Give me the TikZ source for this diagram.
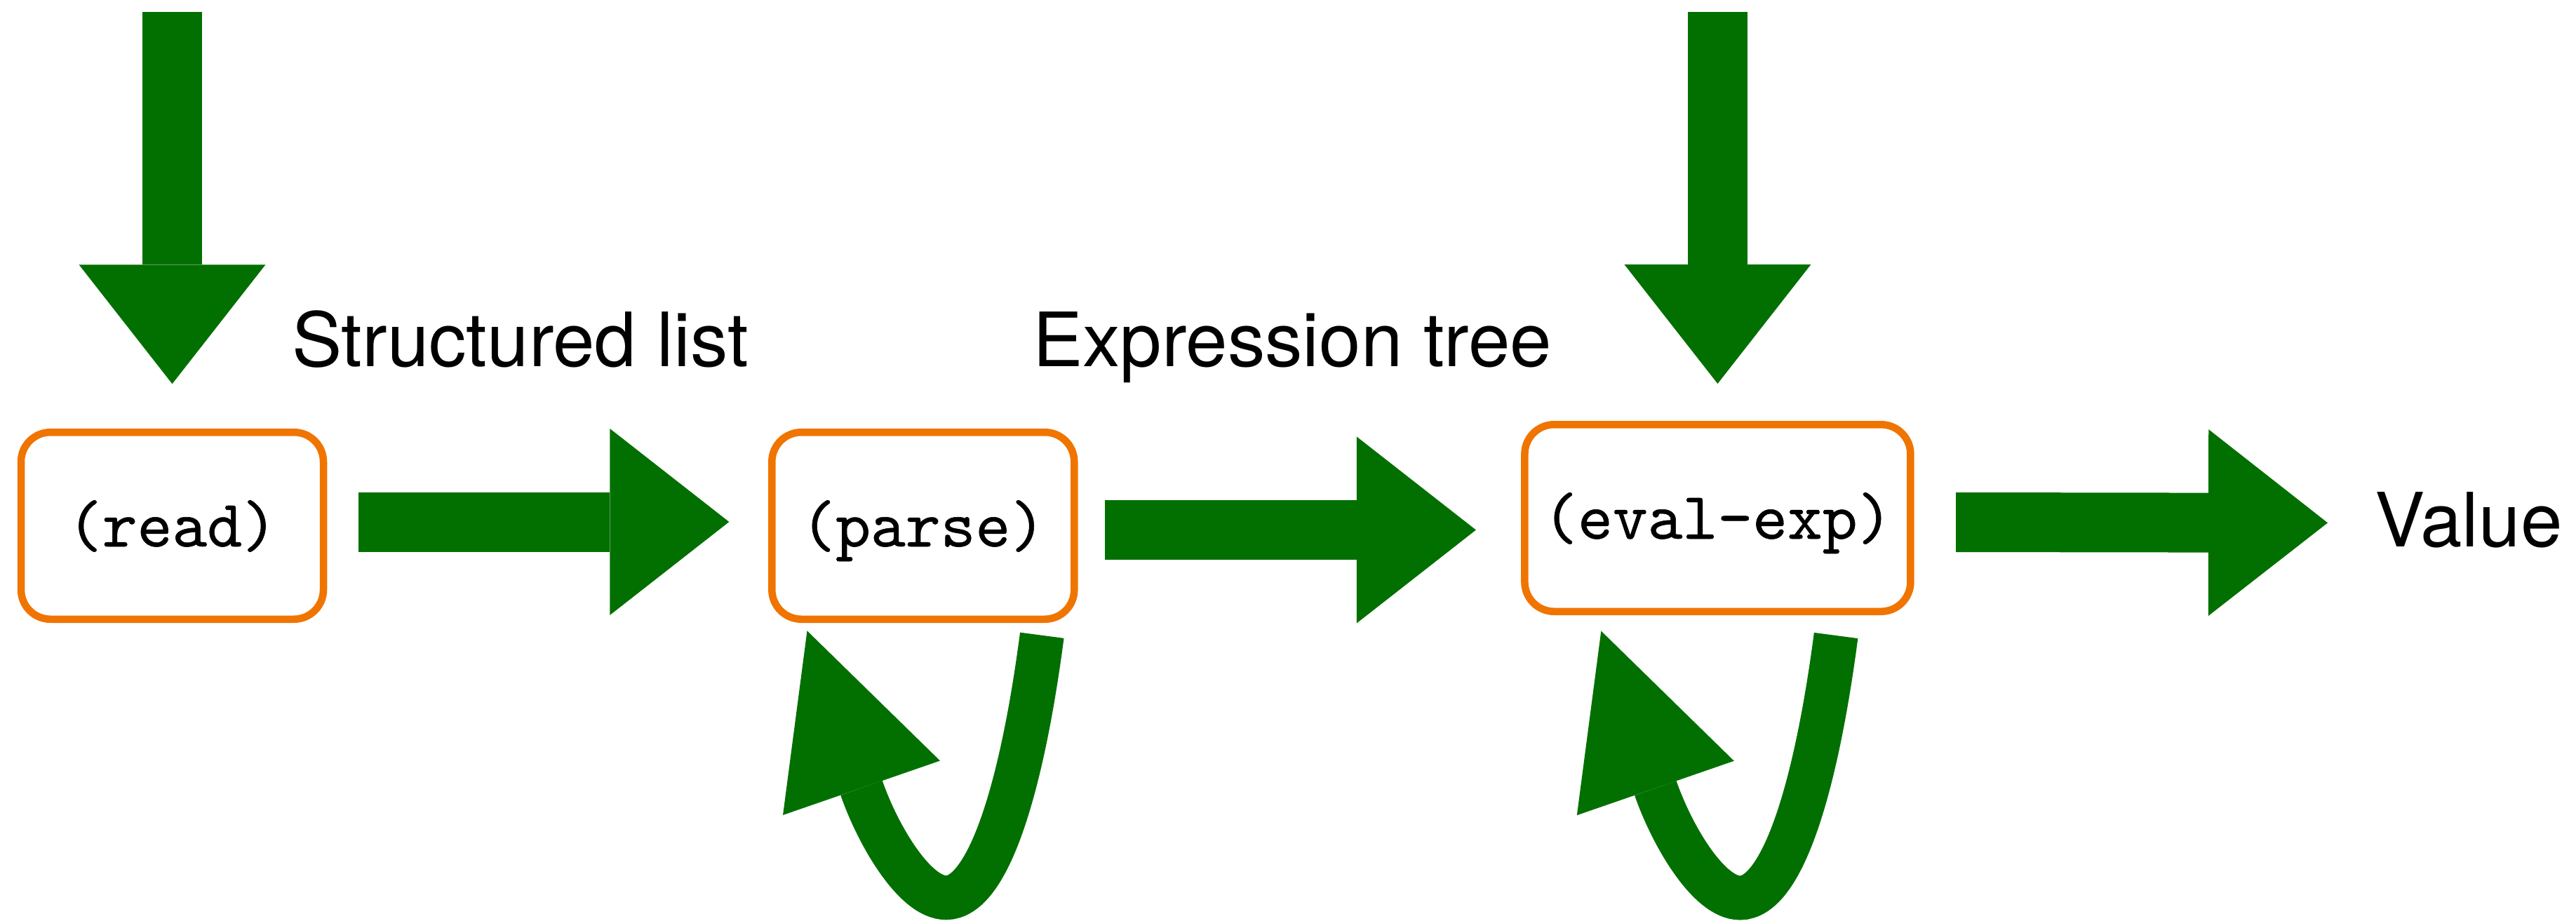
\documentclass[tikz,border=0pt]{standalone}
\usepackage{fontspec}
\setmainfont{TeX Gyre Heros}
\newfontfamily\codefont{lmmono10-regular.otf}[FakeBold=0.6]
\usetikzlibrary{arrows.meta}
\definecolor{flowgreen}{RGB}{2,112,0}
\definecolor{boxorange}{RGB}{240,116,0}
\begin{document}
\begin{tikzpicture}[
    stage/.style={draw=boxorange, line width=0.105cm, rounded corners=0.42cm, minimum width=4.31cm, minimum height=2.665cm, inner sep=0pt, outer sep=0pt, text height=0.85cm, text depth=0.26cm, font=\codefont\fontsize{27pt}{32pt}\selectfont},
    flowtext/.style={anchor=base west, inner sep=0pt, outer sep=0pt, font=\fontsize{30.4pt}{36pt}\selectfont},
    bigarrow/.style={flowgreen, line width=0.85cm, -{Triangle[length=1.7cm,width=2.66cm,line width=0pt]}},
    looparrow/.style={flowgreen, line width=0.63cm, shorten >=-2.37cm, -{Triangle[length=2.37cm,width=2.37cm,line width=0pt]}}]
        \useasboundingbox (0,0) rectangle (36.72,13.12);
        \node[stage] (read) at (2.455,5.625) {(read)};
        \node[stage] (parse) at (13.158,5.625) {(parse)};
        \node[stage, minimum width=5.50cm] (eval) at (24.484,5.735) {(eval-exp)};
        \node[flowtext] (slist) at (4.16,7.90) {Structured list};
        \node[flowtext] (etree) at (14.72,7.90) {Expression tree};
        \node[flowtext] (value) at (33.855,5.33) {Value};
        \coordinate (readin) at (2.455,12.95);
        \coordinate (evalin) at (24.484,12.95);
        \draw[bigarrow] (readin) -- ([yshift=0.69cm]read.north);
        \draw[bigarrow] (evalin) -- ([yshift=0.5825cm]eval.north);
        \draw[bigarrow] ([xshift=0.495cm,yshift=0.055cm]read.east) -- ([xshift=-0.61cm,yshift=0.055cm]parse.west);
        \draw[bigarrow] ([xshift=0.4325cm,yshift=-0.06cm]parse.east) -- ([xshift=-0.695cm,yshift=-0.17cm]eval.west);
        \draw[bigarrow] ([xshift=0.6465cm,yshift=-0.06cm]eval.east) -- ([xshift=-0.675cm,yshift=-0.045cm]value.west);
        \draw[looparrow] ([shift={(1.695,-0.23)}]parse.south) .. controls +(-0.286,-2.18) and +(0.6,0) .. ++(-1.368,-3.74) .. controls +(-0.45,0) and +(0.23,-0.665) .. ++(-1.205,1.565);
        \draw[looparrow] ([shift={(1.687,-0.3425)}]eval.south) .. controls +(-0.286,-2.18) and +(0.6,0) .. ++(-1.368,-3.74) .. controls +(-0.45,0) and +(0.23,-0.665) .. ++(-1.205,1.565);
\end{tikzpicture}
\end{document}
